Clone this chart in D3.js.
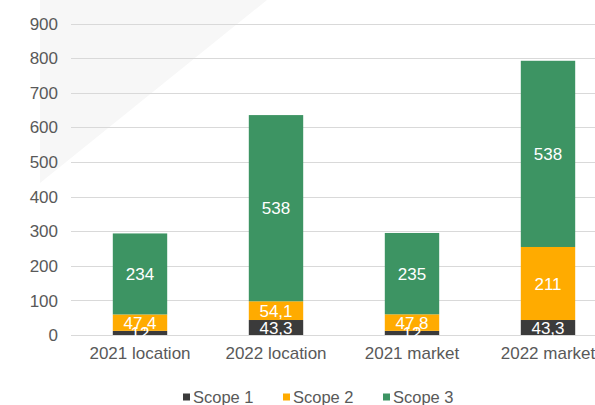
<!DOCTYPE html>
<html>
<head>
<meta charset="utf-8">
<script src="https://d3js.org/d3.v7.min.js"></script>
<style>
  body { margin: 0; background: #fff; }
  svg { display: block; font-family: "Liberation Sans", Arial, sans-serif; }
</style>
</head>
<body>
<div id="chart"></div>
<script>
// data
var categories = ["2021 location", "2022 location", "2021 market", "2022 market"];
var seriesNames = ["Scope 1", "Scope 2", "Scope 3"];
var scope1 = [12, 43.3, 12, 43.3];
var scope2 = [47.4, 54.1, 47.8, 211];
var scope3 = [234, 538, 235, 538];
var yTicks = [0, 100, 200, 300, 400, 500, 600, 700, 800, 900];

var colors = ["#3b3b3b", "#ffab00", "#3d9463"];

var W = 595, H = 405;
var svg = d3.select("#chart").append("svg")
    .attr("width", W)
    .attr("height", H);

// faint background shape in the top-left corner
svg.append("path")
    .attr("d", "M40,0 L267,0 L40,183 Z")
    .attr("fill", "#f7f7f7");

var rows = categories.map(function(c, i) {
  return {cat: c, "Scope 1": scope1[i], "Scope 2": scope2[i], "Scope 3": scope3[i]};
});

var x = d3.scaleBand()
    .domain(categories)
    .range([72, 616])
    .paddingInner(0.6)
    .paddingOuter(0.3);

var y = d3.scaleLinear()
    .domain([0, 900])
    .range([335, 23.5]);

// gridlines
svg.append("g")
  .selectAll("line")
  .data(yTicks)
  .enter().append("line")
    .attr("x1", 71)
    .attr("x2", W)
    .attr("y1", function(d) { return Math.round(y(d)) + 0.5; })
    .attr("y2", function(d) { return Math.round(y(d)) + 0.5; })
    .attr("stroke", "#d9d9d9")
    .attr("stroke-width", 1);

// y tick labels
svg.append("g")
  .selectAll("text")
  .data(yTicks)
  .enter().append("text")
    .attr("x", 58)
    .attr("y", function(d) { return y(d); })
    .attr("dy", "0.36em")
    .attr("text-anchor", "end")
    .attr("fill", "#595959")
    .style("font-size", "17px")
    .text(function(d) { return d; });

var stacked = d3.stack().keys(seriesNames)(rows);

var fmt = function(v) { return String(v).replace(".", ","); };

// bars
svg.append("g")
  .selectAll("g")
  .data(stacked)
  .enter().append("g")
    .attr("fill", function(d, i) { return colors[i]; })
  .selectAll("rect")
  .data(function(d) { return d; })
  .enter().append("rect")
    .attr("x", function(d) { return x(d.data.cat); })
    .attr("y", function(d) { return y(d[1]); })
    .attr("width", x.bandwidth())
    .attr("height", function(d) { return y(d[0]) - y(d[1]); });

// data labels
svg.append("g")
  .selectAll("g")
  .data(stacked)
  .enter().append("g")
  .selectAll("text")
  .data(function(d) { return d.map(function(p) { return {p: p, key: d.key}; }); })
  .enter().append("text")
    .attr("x", function(d) { return x(d.p.data.cat) + x.bandwidth() / 2; })
    .attr("y", function(d) { return y((d.p[0] + d.p[1]) / 2); })
    .attr("dy", "0.36em")
    .attr("text-anchor", "middle")
    .attr("fill", "#ffffff")
    .style("font-size", "17px")
    .text(function(d) { return fmt(d.p.data[d.key]); });

// x category labels
svg.append("g")
  .selectAll("text")
  .data(categories)
  .enter().append("text")
    .attr("x", function(d) { return x(d) + x.bandwidth() / 2; })
    .attr("y", 359)
    .attr("text-anchor", "middle")
    .attr("fill", "#595959")
    .style("font-size", "17px")
    .text(function(d) { return d; });

// legend
var legendX = [183, 283, 383];
var legend = svg.append("g")
  .selectAll("g")
  .data(seriesNames)
  .enter().append("g")
    .attr("transform", function(d, i) { return "translate(" + legendX[i] + ",397)"; });
legend.append("rect")
    .attr("x", 0).attr("y", -3.5)
    .attr("width", 7).attr("height", 7)
    .attr("fill", function(d, i) { return colors[i]; });
legend.append("text")
    .attr("x", 10)
    .attr("y", 0)
    .attr("dy", "0.36em")
    .attr("fill", "#595959")
    .style("font-size", "16.5px")
    .text(function(d) { return d; });
</script>
</body>
</html>
